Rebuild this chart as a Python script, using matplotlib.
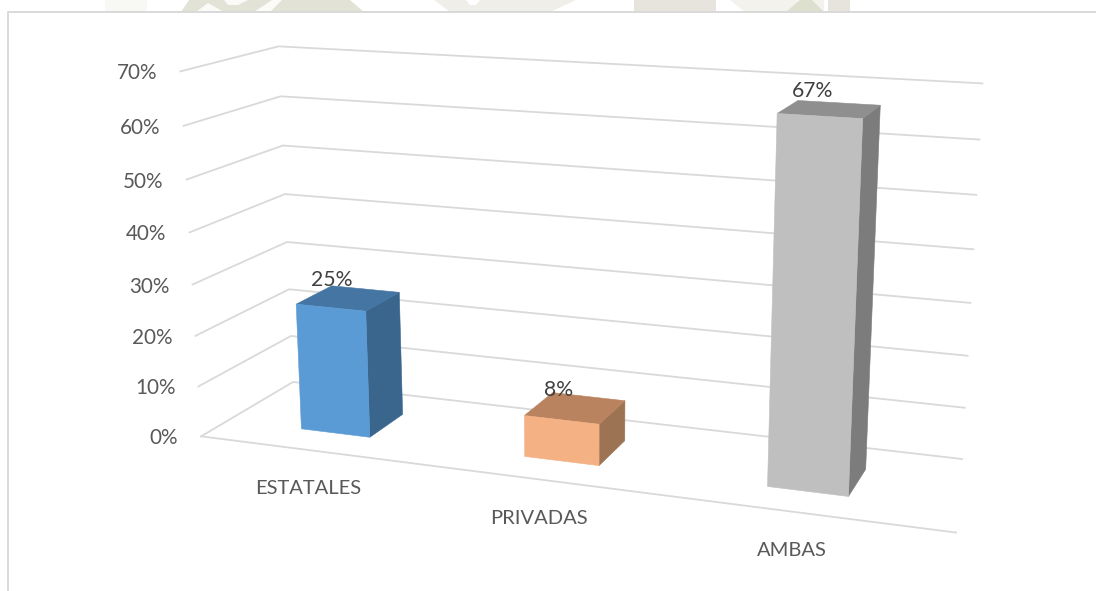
import numpy as np
import matplotlib
matplotlib.use("Agg")
import matplotlib.pyplot as plt
from matplotlib.patches import Polygon

plt.rcParams['font.family'] = ['Lato', 'DejaVu Sans']

categories = ["ESTATALES", "PRIVADAS", "AMBAS"]
values = [25, 8, 67]
value_labels = ["25%", "8%", "67%"]
ticks = [0, 10, 20, 30, 40, 50, 60, 70]
tick_labels = ["0%", "10%", "20%", "30%", "40%", "50%", "60%", "70%"]

front_colors = ["#5B9BD5", "#F4B183", "#BFBFBF"]
top_colors = ["#4575A3", "#BA835F", "#8F8F8F"]
side_colors = ["#3A658C", "#9C7353", "#7C7C7C"]
grid_color = "#D9D9D9"

X_MAX = 2.995      # category extent of the floor
X_FRONT = 3.10     # drawn extent of the front floor edge
BAR_W = 0.315
D0, D1 = 0.285, 0.685   # bar depth range on floor (0 front, 1 back)

# camera calibration: (x, depth, z) -> pixel, from the wall corners
left_front = [(202, 436), (198, 386), (195, 336), (192, 285), (189, 233), (186, 180), (183.5, 126), (181, 72)]
left_back = [(293, 382), (291, 336), (289, 289), (287, 242), (285, 194), (283, 145), (281, 96), (279, 46)]
right_back = [(962, 460), (965, 408), (967, 357), (970, 303), (973, 249), (976, 195), (979, 139), (983, 83)]
calib = [((X_MAX, 0, 0), (928, 527))]
for k, t in enumerate(ticks):
    calib += [((0, 0, t), left_front[k]), ((0, 1, t), left_back[k]), ((X_MAX, 1, t), right_back[k])]
rows = []
for (x, d, z), (u, v) in calib:
    rows.append([x, d, z, 1, 0, 0, 0, 0, -u*x, -u*d, -u*z, -u])
    rows.append([0, 0, 0, 0, x, d, z, 1, -v*x, -v*d, -v*z, -v])
P = np.linalg.svd(np.array(rows, float))[2][-1].reshape(3, 4)


def project(x, d, z):
    p = P @ np.array([x, d, z, 1.0])
    return p[0] / p[2], p[1] / p[2]


fig = plt.figure(figsize=(10.96, 5.91), dpi=100, facecolor="white")
ax = fig.add_axes([0, 0, 1, 1])
ax.set_xlim(0, 1096)
ax.set_ylim(591, 0)
ax.axis("off")

# faint page watermark showing above the chart area
wm = [
    ([(105, 0), (147, 0), (147, 12), (105, 12)], "#F8F8F4"),
    ([(189, 0), (350, 0), (364, 12), (181, 12)], "#E3E2D6"),
    ([(196, 12), (208, 3), (224, 12)], "#FAFAF7"),
    ([(224, 0), (248, 0), (238, 5), (228, 5)], "#FAFAF7"),
    ([(254, 12), (272, 0), (282, 0), (270, 12)], "#FBFBF8"),
    ([(434, 0), (576, 0), (550, 12), (450, 12)], "#EFEEE8"),
    ([(466, 0), (480, 0), (476, 5), (470, 5)], "#FFFFFF"),
    ([(634, 0), (716, 0), (716, 12), (634, 12)], "#E6E4DC"),
    ([(730, 0), (824, 0), (824, 12), (745, 12)], "#F3F2EC"),
    ([(786, 12), (800, 0), (812, 0), (824, 12)], "#DDDFCF"),
    ([(828, 0), (850, 0), (850, 12), (828, 12)], "#E6E4DC"),
]
for pts, col in wm:
    ax.add_patch(Polygon(pts, closed=True, facecolor=col, edgecolor="none", zorder=0))

# chart-area border
ax.plot([8, 8, 1096], [591, 12, 12], color="#D9D9D9", lw=1.4, zorder=1)

# walls and floor
for t, lab in zip(ticks, tick_labels):
    pts = [project(0, 0, t), project(0, 1, t), project(X_MAX, 1, t)]
    ax.plot(*zip(*pts), color=grid_color, lw=1.3, zorder=2, solid_joinstyle="miter")
    ax.annotate(lab, pts[0], xytext=(-23 * 0.72, -2 * 0.72), textcoords="offset points",
                ha="right", va="center", fontsize=14.9, color="#595959", zorder=6)
ax.plot(*zip(project(0, 0, 0), project(X_FRONT, 0, 0)), color=grid_color, lw=1.3, zorder=2)

# bars
for i, (name, val, lab) in enumerate(zip(categories, values, value_labels)):
    x0, x1 = i + 0.5 - BAR_W / 2, i + 0.5 + BAR_W / 2
    front = [project(x0, D0, 0), project(x1, D0, 0), project(x1, D0, val), project(x0, D0, val)]
    side = [project(x1, D0, 0), project(x1, D1, 0), project(x1, D1, val), project(x1, D0, val)]
    top = [project(x0, D0, val), project(x1, D0, val), project(x1, D1, val), project(x0, D1, val)]
    for poly, col in ((side, side_colors[i]), (top, top_colors[i]), (front, front_colors[i])):
        ax.add_patch(Polygon(poly, closed=True, facecolor=col, edgecolor=col, lw=0.4, zorder=4))
    cx, cy = project(i + 0.5, (D0 + D1) / 2, val)
    ax.annotate(lab, (cx, cy), xytext=(-17 * 0.72, 18.5 * 0.72), textcoords="offset points",
                ha="center", va="center", fontsize=15.2, color="#404040", zorder=7)
    bx, by = project(i + 0.5, 0, 0)
    ax.annotate(name, (bx, by), xytext=(-2 * 0.72, -38.5 * 0.72), textcoords="offset points",
                ha="center", va="center", fontsize=14.5, color="#595959", zorder=6)

fig.savefig("out.png", dpi=100, facecolor="white")
